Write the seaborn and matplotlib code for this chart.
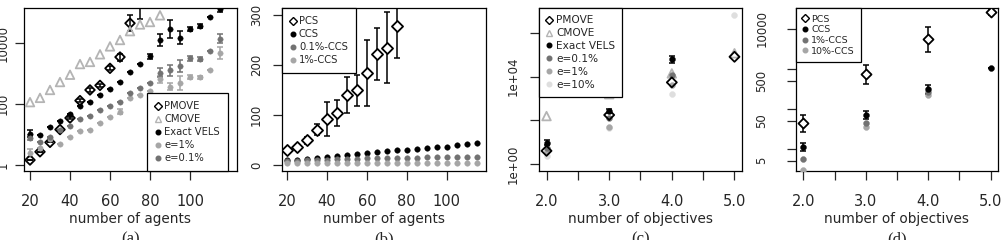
import numpy as np
import pandas as pd
import seaborn as sns
import matplotlib.pyplot as plt
from matplotlib.lines import Line2D

# ---- panel (a): runtime vs number of agents (log scale) ----
agents = [20, 25, 30, 35, 40, 45, 50, 55, 60, 65, 70, 75, 80, 85, 90, 95, 100, 105, 110, 115]
a_pmove = [10**0.16, 10**0.43, 10**0.74, 10**1.16, 10**1.54, 10**2.11, 10**2.46, 10**2.61,
           10**3.17, 10**3.54, 10**4.65, 10**5.4]
a_pmove_err = [1.0, 1.0, 1.0, 1.0, 1.1, 1.15, 1.15, 1.15, 1.15, 1.3, 1.8, 4.2]
a_cmove = [10**2.06, 10**2.2, 10**2.46, 10**2.72, 10**2.96, 10**3.31, 10**3.38, 10**3.63,
           10**3.89, 10**4.1, 10**4.39, 10**4.61, 10**4.69, 10**4.91]
a_exact = [10**1.03, 10**0.98, 10**1.23, 10**1.45, 10**1.66, 10**1.94, 10**2.08, 10**2.29,
           10**2.5, 10**2.73, 10**3.05, 10**3.32, 10**3.56, 10**4.09, 10**4.47, 10**4.18,
           10**4.46, 10**4.55, 10**4.86, 10**5.12]
a_exact_err = [1.35, 1.0, 1.0, 1.0, 1.0, 1.0, 1.0, 1.0, 1.0, 1.0, 1.0, 1.0, 1.2, 1.55, 2.0,
               1.6, 1.2, 1.15, 1.0, 1.3]
a_e1 = [10**0.38, 10**0.54, 10**0.84, 10**0.68, 10**0.92, 10**1.1, 10**1.14, 10**1.36,
        10**1.56, 10**1.75, 10**2.19, 10**2.28, 10**2.42, 10**2.81, 10**2.57, 10**2.7,
        10**2.89, 10**2.87, 10**3.11, 10**3.67]
a_e1_err = [1.35, 1.0, 1.0, 1.0, 1.0, 1.0, 1.0, 1.0, 1.0, 1.2, 1.0, 1.0, 1.0, 1.3, 1.3,
            1.7, 1.15, 1.15, 1.0, 1.6]
a_e01 = [10**0.89, 10**0.76, 10**0.92, 10**1.16, 10**1.27, 10**1.52, 10**1.59, 10**1.79,
         10**1.92, 10**2.08, 10**2.37, 10**2.51, 10**2.68, 10**3.03, 10**3.11, 10**3.25,
         10**3.5, 10**3.47, 10**3.74, 10**4.14]
a_e01_err = [1.2, 1.0, 1.0, 1.0, 1.0, 1.0, 1.0, 1.0, 1.0, 1.0, 1.0, 1.0, 1.0, 1.4, 1.5,
             1.6, 1.2, 1.15, 1.0, 1.4]

# ---- panel (b): solution set size vs number of agents ----
b_pcs = [30, 36.7, 50, 71, 93, 105, 140, 150, 185, 223, 235, 278]
b_pcs_err = [3, 4, 7, 11, 34, 26, 36, 31, 66, 52, 71, 63]
b_ccs = [10, 11, 13, 15, 17, 19, 21, 22, 25, 27, 29, 30, 31, 32, 35, 37, 37, 41, 43, 45]
b_ccs01 = [8.7, 9, 9.5, 10, 11, 12, 12.5, 13, 13.5, 14, 14.5, 15, 15, 15, 15.5, 15.5, 15.5,
           16, 16.5, 16.7]
b_ccs1 = [4.5, 4.6, 4.7, 4.8, 4.9, 5, 5, 5, 5, 5, 5, 5, 5, 5, 5, 5, 5, 5, 5, 5]

# ---- panel (c): runtime vs number of objectives (log scale) ----
objectives = [2.0, 3.0, 4.0, 5.0]
c_pmove = [10**0.61, 10**2.25, 10**3.74, 10**4.91]
c_cmove = [10**2.2, 10**3.2, 10**4.15, 10**5.07]
c_exact = [10**0.99, 10**2.43, 10**4.79]
c_exact_err = [1.3, 1.2, 1.4]
c_e01 = [10**0.73, 10**2.1, 10**4.08]
c_e1 = [10**0.6, 10**1.72, 10**3.62]
c_e10 = [10**0.38, 10**1.64, 10**3.2, 10**6.82]

# ---- panel (d): solution set size vs number of objectives (log scale) ----
d_pcs = [43, 724, 5400, 26500]
d_pcs_err = [1.6, 1.75, 2.1, 1.2]
d_ccs = [10.8, 69, 310, 1020]
d_ccs_err = [1.25, 1.25, 1.3, 1.0]
d_ccs1 = [5.5, 43, 262]
d_ccs10 = [2.95, 35, 220]

W, H = 1004, 240
sns.set_style("ticks")
plt.rcParams["font.family"] = ["DejaVu Sans"]

fig = plt.figure(figsize=(W / 100, H / 100), dpi=100)


def box(x0, x1, y0=8, y1=171):
    return fig.add_axes([x0 / W, 1 - y1 / H, (x1 - x0) / W, (y1 - y0) / H])


def errs(y, f):
    y = np.asarray(y, float)
    f = np.asarray(f, float)
    return [y - y / f, y * f - y]


def pts(ax, x, y, label, marker, color, hollow=False, size=16, err=None, errlog=True):
    x = list(x[:len(y)])
    if err is not None:
        yerr = errs(y, err) if errlog else [err, err]
        ax.errorbar(x, y, yerr=yerr, fmt="none", ecolor=color, elinewidth=1.1,
                    capsize=2.5, capthick=1.1, zorder=2)
    df = pd.DataFrame({"x": x, "y": y})
    if hollow == "white":
        sns.scatterplot(data=df, x="x", y="y", ax=ax, marker=marker, s=size,
                        facecolor="white", edgecolor=color, linewidth=1.3, zorder=3)
    elif hollow:
        sns.scatterplot(data=df, x="x", y="y", ax=ax, marker=marker, s=size,
                        facecolor="none", edgecolor=color, linewidth=1.3, zorder=3)
    else:
        sns.scatterplot(data=df, x="x", y="y", ax=ax, marker=marker, s=size,
                        color=color, edgecolor=color, linewidth=0.3, zorder=3)
    if hollow:
        return Line2D([], [], ls="none", marker=marker, mfc="none", mec=color, mew=1.0,
                      ms=4.2, label=label)
    return Line2D([], [], ls="none", marker="o", mfc=color, mec=color, ms=3.3, label=label)


def style(ax, xlabel, cap, ypad):
    for s in ax.spines.values():
        s.set_visible(True)
        s.set_color("black")
        s.set_linewidth(0.9)
    ax.tick_params(axis="both", length=6.5, width=0.9)
    ax.tick_params(axis="x", labelsize=10.5, pad=10)
    ax.tick_params(axis="y", labelsize=8.5, pad=ypad, labelrotation=90)
    for t in ax.get_yticklabels():
        t.set_va("center")
    ax.minorticks_off()
    ax.set_xlabel(xlabel, fontsize=9.8, labelpad=2)
    ax.set_ylabel("")
    pos = ax.get_position()
    fig.text((pos.x0 + pos.x1) / 2, 1 - 239 / H, cap, ha="center", va="center",
             fontsize=12, family=["Liberation Serif", "DejaVu Serif"])


def legend(ax, handles, loc, fs, ls, bp, anchor=None):
    kw = {}
    if anchor is not None:
        kw["bbox_to_anchor"] = anchor
    leg = ax.legend(handles=handles, loc=loc, fontsize=fs, frameon=True, fancybox=False,
                    edgecolor="black", framealpha=1, borderaxespad=0, handletextpad=0.35,
                    labelspacing=ls, borderpad=bp, handlelength=0.55, **kw)
    leg.get_frame().set_linewidth(0.9)


BLACK, DARK, MID, LIGHT, VLIGHT = "#000000", "#727272", "#a6a6a6", "#b4b4b4", "#dedede"

# (a)
ax = box(24, 237)
ax.set_yscale("log")
h = []
h.append(pts(ax, agents, a_pmove, "PMOVE", "D", BLACK, hollow=True, size=24, err=a_pmove_err))
h.append(pts(ax, agents, a_cmove, "CMOVE", "^", LIGHT, hollow=True, size=38))
h.append(pts(ax, agents, a_exact, "Exact VELS", "o", BLACK, size=15, err=a_exact_err))
h.append(pts(ax, agents, a_e1, "e=1%", "o", MID, size=15, err=a_e1_err))
h.append(pts(ax, agents, a_e01, "e=0.1%", "o", DARK, size=15, err=a_e01_err))
ax.set_xlim(17, 123.5)
ax.set_ylim(10**-0.2, 10**5.15)
ax.set_xticks([20, 40, 60, 80, 100])
ax.set_yticks([1, 100, 10000])
ax.set_yticklabels(["1", "100", "10000"])
legend(ax, h, "lower right", 7.2, 0.29, 0.8, anchor=((228 - 24) / 213, 0))
style(ax, "number of agents", "(a)", 4.0)

# (b)
ax = box(282, 486)
h = []
h.append(pts(ax, agents, b_pcs, "PCS", "D", BLACK, hollow="white", size=32, err=b_pcs_err,
             errlog=False))
h.append(pts(ax, agents, b_ccs, "CCS", "o", BLACK, size=16))
h.append(pts(ax, agents, b_ccs01, "0.1%-CCS", "o", DARK, size=16))
h.append(pts(ax, agents, b_ccs1, "1%-CCS", "o", MID, size=16))
ax.set_xlim(17.5, 119.7)
ax.set_ylim(-12, 314)
ax.set_xticks([20, 40, 60, 80, 100])
ax.set_yticks([0, 100, 200, 300])
legend(ax, h, "upper left", 7.2, 0.31, 0.8)
style(ax, "number of agents", "(b)", 7.3)

# (c)
ax = box(539, 742)
ax.set_yscale("log")
h = []
h.append(pts(ax, objectives, c_cmove, "CMOVE", "^", LIGHT, hollow=True, size=38))
h.append(pts(ax, objectives, c_e10, "e=10%", "o", VLIGHT, size=18))
h.append(pts(ax, objectives, c_e1, "e=1%", "o", MID, size=18))
h.append(pts(ax, objectives, c_e01, "e=0.1%", "o", DARK, size=18))
h.append(pts(ax, objectives, c_exact, "Exact VELS", "o", BLACK, size=18, err=c_exact_err))
h.append(pts(ax, objectives, c_pmove, "PMOVE", "D", BLACK, hollow=True, size=26))
h = [h[5], h[0], h[4], h[3], h[2], h[1]]
ax.set_xlim(1.88, 5.12)
ax.set_ylim(10**-0.31, 10**7.14)
ax.set_xticks([2, 2.5, 3, 3.5, 4, 4.5, 5])
ax.set_xticklabels(["2.0", "", "3.0", "", "4.0", "", "5.0"])
ax.set_yticks([1, 1e2, 1e4, 1e6])
ax.set_yticklabels(["1e+00", "", "1e+04", ""])
legend(ax, h, "upper left", 7.6, 0.27, 0.7)
style(ax, "number of objectives", "(c)", 7.3)

# (d)
ax = box(796, 998)
ax.set_yscale("log")
h = []
h.append(pts(ax, objectives, d_ccs10, "10%-CCS", "o", MID, size=18))
h.append(pts(ax, objectives, d_ccs1, "1%-CCS", "o", DARK, size=18))
h.append(pts(ax, objectives, d_ccs, "CCS", "o", BLACK, size=18, err=d_ccs_err))
h.append(pts(ax, objectives, d_pcs, "PCS", "D", BLACK, hollow="white", size=26, err=d_pcs_err))
h = h[::-1]
ax.set_xlim(1.88, 5.12)
ax.set_ylim(2.76, 10**4.52)
ax.set_xticks([2, 2.5, 3, 3.5, 4, 4.5, 5])
ax.set_xticklabels(["2.0", "", "3.0", "", "4.0", "", "5.0"])
ax.set_yticks([5, 10, 50, 100, 500, 1000, 10000])
ax.set_yticklabels(["5", "", "50", "", "500", "", "10000"])
legend(ax, h, "upper left", 6.8, 0.18, 0.7)
style(ax, "number of objectives", "(d)", 13.5)

fig.savefig("out.png", dpi=100)
